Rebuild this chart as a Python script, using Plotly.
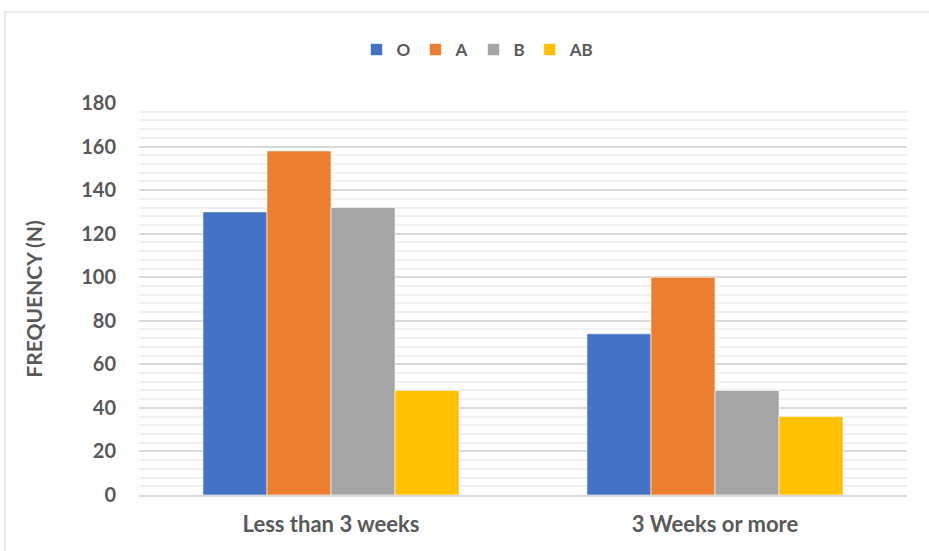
import plotly.graph_objects as go

categories = ["Less than 3 weeks", "3 Weeks or more"]
series_names = ["O", "A", "B", "AB"]
values_o = [130, 74]
values_a = [158, 100]
values_b = [132, 48]
values_ab = [48, 36]
colors = ["#4472C4", "#ED7D31", "#A5A5A5", "#FFC000"]

FONT = "Lato, 'Liberation Sans', sans-serif"
TEXT = "#595959"

fig = go.Figure()
for name, vals, col in zip(series_names, [values_o, values_a, values_b, values_ab], colors):
    fig.add_trace(go.Bar(
        x=categories, y=vals, name=name,
        marker=dict(color=col, line=dict(color="white", width=0.6)),
    ))

W, H = 929, 551
L, R, T, B = 139, 22, 103, 56
pw, ph = W - L - R, H - T - B

def px_x(p):
    return (p - L) / pw

def px_y(p):
    return (H - B - p) / ph

fig.update_layout(
    width=W, height=H,
    margin=dict(l=L, r=R, t=T, b=B),
    paper_bgcolor="white", plot_bgcolor="white",
    barmode="group", bargap=0.333, bargroupgap=0,
    font=dict(family=FONT, color=TEXT),
    legend=dict(
        orientation="h", x=px_x(478), y=px_y(50), xanchor="center", yanchor="middle",
        font=dict(size=17, color=TEXT, family=FONT, weight="bold"),
        itemwidth=30, tracegroupgap=0, itemclick=False,
    ),
    xaxis=dict(
        showgrid=False, showline=True, linecolor="#D9D9D9", linewidth=1.5,
        ticks="", tickfont=dict(size=22, color=TEXT, family=FONT, weight="bold"),
        ticklabelstandoff=9,
    ),
    yaxis=dict(
        range=[0, 180], dtick=20, tick0=0,
        showgrid=True, gridcolor="#D9D9D9", gridwidth=1.5,
        minor=dict(dtick=4, showgrid=True, gridcolor="#F0F0F0", gridwidth=1.5),
        zeroline=False, showline=False, ticks="",
        tickfont=dict(size=20, color=TEXT, family=FONT, weight="bold"),
        ticklabelstandoff=22,
        title=dict(text="FREQUENCY (N)", standoff=32,
                   font=dict(size=21, color=TEXT, family=FONT, weight="bold")),
    ),
    shapes=[dict(
        type="rect", xref="paper", yref="paper",
        x0=px_x(5), x1=px_x(940), y0=px_y(560), y1=px_y(12),
        line=dict(color="#D9D9D9", width=1.2), fillcolor="rgba(0,0,0,0)", layer="below",
    )],
)

fig.write_html("out.html")
